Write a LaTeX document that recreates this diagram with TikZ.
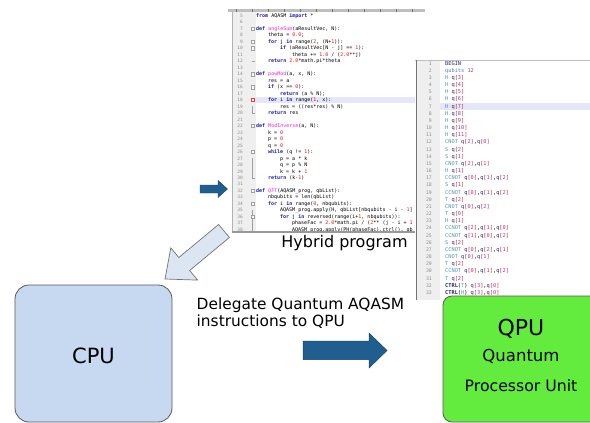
\documentclass[tikz,border=0pt]{standalone}
\usepackage{fontspec}
\setmainfont{DejaVu Sans}
\newfontfamily\codefont{DejaVu Sans Mono}

% colours of the two editors and of the boxes
\definecolor{gutter}{HTML}{EFEFEF}
\definecolor{lineno}{HTML}{8E8E8E}
\definecolor{hilite}{HTML}{E6E6FA}
\definecolor{pykwc}{HTML}{1A1AB8}
\definecolor{pyfnc}{HTML}{F020E0}
\definecolor{pynumc}{HTML}{F01010}
\definecolor{qnavy}{HTML}{24246E}
\definecolor{qteal}{HTML}{5796AE}
\definecolor{qtype}{HTML}{4A7FD0}
\definecolor{qred}{HTML}{E01818}
\definecolor{qpurple}{HTML}{A03A9A}
\definecolor{cpufill}{HTML}{C6D9F0}
\definecolor{qpufill}{HTML}{63EC3E}
\definecolor{arrowblue}{HTML}{1F5E8E}
\definecolor{paleblue}{HTML}{DCE6F2}

% syntax colouring
\newcommand{\pykw}[1]{\textcolor{pykwc}{\bfseries #1}}
\newcommand{\pyfn}[1]{\textcolor{pyfnc}{#1}}
\newcommand{\pynum}[1]{\textcolor{pynumc}{#1}}
\newcommand{\qgate}[1]{\textcolor{qteal}{#1}}
\newcommand{\qreg}[1]{\textcolor{qnavy}{q}\textcolor{qred}{[}\textcolor{qpurple}{#1}\textcolor{qred}{]}}

% one line of code: number, indent level, text
\newcommand{\pyline}[3]{\node[pycode] (py#1) at ({256+12*#2},{17.5+(#1-5)*6.48}) {#3};}
\newcommand{\qline}[2]{\node[qcode] (q#1) at (445,{65+(#1-1)*7.17}) {#2};}

\begin{document}
\begin{tikzpicture}[x=1pt, y=-1pt,
  pycode/.style={anchor=base west, inner sep=0pt, font=\codefont\fontsize{5}{6}\selectfont},
  pyno/.style={anchor=base east, inner sep=0pt, text=lineno, font=\codefont\fontsize{4.5}{5}\selectfont},
  qcode/.style={anchor=base west, inner sep=0pt, font=\codefont\fontsize{5.3}{6.2}\selectfont},
  qno/.style={anchor=base east, inner sep=0pt, text=lineno, font=\codefont\fontsize{4.8}{5.6}\selectfont},
  foldbox/.style={draw=gray!75, fill=white, line width=0.3pt},
  unitbox/.style={draw=black!65, line width=0.8pt, inner sep=0pt},
  caption/.style={inner sep=0pt, anchor=base}]

  \useasboundingbox (0,0) rectangle (590,423);

  % Editeur python (programme hybride)
  \fill[gutter] (232,12) rectangle (256,232);
  \fill[black!25] (228,9) rectangle (425,11.5); % regle
  \foreach \x in {236,252,...,420}
    \draw[black!55, line width=0.4pt] (\x,9) -- (\x,11.5);
  \fill[hilite] (256,96.6) rectangle (416,103.2); % ligne 18

  \foreach \n in {5,...,38}
    \node[pyno] (pyno\n) at (243,{17.5+(\n-5)*6.48}) {\n};

  % replis
  \draw[gray!75, line width=0.3pt] (252.5,62) -- (252.5,{15.7+7*6.48}) -- (255,{15.7+7*6.48});
  \draw[gray!75, line width=0.3pt] (252.5,106) -- (252.5,{15.7+15*6.48}) -- (255,{15.7+15*6.48});
  \draw[gray!75, line width=0.3pt] (252.5,158) -- (252.5,{15.7+25*6.48}) -- (255,{15.7+25*6.48});
  \draw[gray!75, line width=0.3pt] (252.5,210) -- (252.5,232);
  \foreach \n in {7,9,10,14,16,22,26,32,34,36}
    \draw[foldbox] (250.7,{15.7+(\n-5)*6.48-1.7}) rectangle ++(3.6,3.4);
  \draw[foldbox, draw=red!80] (250.7,{15.7+13*6.48-1.7}) rectangle ++(3.6,3.4);

  \begin{scope}
    \clip (232,12) rectangle (416,231);
    \pyline{5}{0}{\pykw{from} AQASM \pykw{import} *}
    \pyline{7}{0}{\pykw{def} \pyfn{angleSum}(aResultVec, N):}
    \pyline{8}{1}{theta = \pynum{0.0};}
    \pyline{9}{1}{\pykw{for} j \pykw{in} range(\pynum{2}, (N+\pynum{1})):}
    \pyline{10}{2}{\pykw{if} (aResultVec[N - j] == \pynum{1}):}
    \pyline{11}{3}{theta += \pynum{1.0} / (\pynum{2.0}**j)}
    \pyline{12}{1}{\pykw{return} \pynum{2.0}*math.pi*theta}
    \pyline{14}{0}{\pykw{def} \pyfn{powMod}(a, x, N):}
    \pyline{15}{1}{res = a}
    \pyline{16}{1}{\pykw{if} (x == \pynum{0}):}
    \pyline{17}{2}{\pykw{return} (a \% N);}
    \pyline{18}{1}{\pykw{for} i \pykw{in} range(\pynum{1}, x):}
    \pyline{19}{2}{res = ((res*res) \% N)}
    \pyline{20}{1}{\pykw{return} res}
    \pyline{22}{0}{\pykw{def} \pyfn{ModInverse}(a, N):}
    \pyline{23}{1}{k = \pynum{0}}
    \pyline{24}{1}{p = \pynum{0}}
    \pyline{25}{1}{q = \pynum{0}}
    \pyline{26}{1}{\pykw{while} (q != \pynum{1}):}
    \pyline{27}{2}{p = a * k}
    \pyline{28}{2}{q = p \% N}
    \pyline{29}{2}{k = k + \pynum{1}}
    \pyline{30}{1}{\pykw{return} (k-\pynum{1})}
    \pyline{32}{0}{\pykw{def} \pyfn{QFT}(AQASM\_prog, qbList):}
    \pyline{33}{1}{nbqubits = len(qbList)}
    \pyline{34}{1}{\pykw{for} i \pykw{in} range(\pynum{0}, nbqubits):}
    \pyline{35}{2}{AQASM\_prog.apply(H, qbList[nbqubits - i - \pynum{1}]}
    \pyline{36}{2}{\pykw{for} j \pykw{in} reversed(range(i+\pynum{1}, nbqubits)):}
    \pyline{37}{3}{phaseFac = \pynum{2.0}*math.pi / (\pynum{2}** (j - i + \pynum{1}}
    \pyline{38}{3}{AQASM\_prog.apply(PH(phaseFac).ctrl(), qb}
  \end{scope}
  \draw[black!30, line width=0.5pt] (232,11.5) -- (232,232);
  \draw[black!40, line width=2pt] (232,232) -- (416,232);

  \node[caption, font=\fontsize{16}{19}\selectfont] (hybrid) at (344.5,247) {Hybrid program};

  % Editeur AQASM
  \fill[white] (415,60) rectangle (590,300);
  \fill[gutter] (417,60.5) rectangle (440,300);
  \draw[black!25, line width=0.6pt] (415,60) -- (590,60);
  \draw[black!55, line width=1.2pt] (416.5,60) -- (416.5,300);
  \fill[hilite] (440,102.6) rectangle (590,109.6); % ligne 7

  \foreach \n in {1,...,33}
    \node[qno] (qno\n) at (432,{65+(\n-1)*7.17}) {\n};

  \qline{1}{\textcolor{qnavy}{BEGIN}}
  \qline{2}{\textcolor{qtype}{qubits} \textcolor{qpurple}{12}}
  \foreach \n in {3,...,11}
    \node[qcode] (q\n) at (445,{65+(\n-1)*7.17}) {\qgate{H} \qreg{\n}};
  \qline{12}{\qgate{CNOT} \qreg{2},\qreg{0}}
  \qline{13}{\qgate{S} \qreg{2}}
  \qline{14}{\qgate{S} \qreg{1}}
  \qline{15}{\qgate{CNOT} \qreg{2},\qreg{1}}
  \qline{16}{\qgate{H} \qreg{1}}
  \qline{17}{\qgate{CCNOT} \qreg{0},\qreg{1},\qreg{2}}
  \qline{18}{\qgate{S} \qreg{1}}
  \qline{19}{\qgate{CCNOT} \qreg{0},\qreg{1},\qreg{2}}
  \qline{20}{\qgate{T} \qreg{2}}
  \qline{21}{\qgate{CNOT} \qreg{0},\qreg{2}}
  \qline{22}{\qgate{T} \qreg{0}}
  \qline{23}{\qgate{H} \qreg{1}}
  \qline{24}{\qgate{CCNOT} \qreg{2},\qreg{1},\qreg{0}}
  \qline{25}{\qgate{CCNOT} \qreg{1},\qreg{0},\qreg{2}}
  \qline{26}{\qgate{S} \qreg{2}}
  \qline{27}{\qgate{CCNOT} \qreg{0},\qreg{2},\qreg{1}}
  \qline{28}{\qgate{CNOT} \qreg{0},\qreg{1}}
  \qline{29}{\qgate{T} \qreg{2}}
  \qline{30}{\qgate{CCNOT} \qreg{0},\qreg{1},\qreg{2}}
  \qline{31}{\qgate{T} \qreg{2}}
  \qline{32}{\textcolor{qnavy}{\bfseries CTRL}(\qgate{T}) \qreg{3},\qreg{0}}
  \qline{33}{\textcolor{qnavy}{\bfseries CTRL}(\qgate{H}) \qreg{3},\qreg{0}}

  % Fleches
  \filldraw[fill=arrowblue, draw=arrowblue!70!black, line width=0.4pt]
    (200,185) -- (218,185) -- (218,180.5) -- (227.5,189) -- (218,197.5) -- (218,193) -- (200,193) -- cycle;
  \filldraw[fill=paleblue, draw=black!55, line width=0.7pt]
    (218.6,224.5) -- (178.8,257.5) -- (170.8,247.9) -- (165,279) -- (197.6,280.1) -- (189.6,270.5) -- (229.4,237.5) -- cycle;
  \filldraw[fill=arrowblue, draw=arrowblue!70!black, line width=0.5pt]
    (303,341) -- (369,341) -- (369,333) -- (387,350.5) -- (369,368) -- (369,359.5) -- (303,359.5) -- cycle;

  % CPU
  \node[unitbox, fill=cpufill, rounded corners=14pt, minimum width=157pt, minimum height=137pt] (cpu) at (93.5,353.5) {};
  \node[caption, font=\fontsize{21}{25}\selectfont] (cpuname) at (93.5,363) {CPU};

  % texte de delegation
  \node[anchor=base west, inner sep=0pt, font=\fontsize{15.4}{18}\selectfont] (deleg1) at (196.5,309) {Delegate Quantum AQASM};
  \node[anchor=base west, inner sep=0pt, font=\fontsize{15.4}{18}\selectfont] (deleg2) at (196.5,326) {instructions to QPU};

  % QPU
  \node[unitbox, fill=qpufill, rounded corners=9pt, minimum width=157pt, minimum height=126pt] (qpu) at (521.5,359) {};
  \node[caption, font=\fontsize{22}{26}\selectfont] (qpuname) at (521,335) {QPU};
  \node[caption, font=\fontsize{16.5}{20}\selectfont] (qpuq) at (521,361) {Quantum};
  \node[caption, font=\fontsize{15.7}{19}\selectfont] (qpupu) at (521,391.5) {Processor Unit};

\end{tikzpicture}
\end{document}
